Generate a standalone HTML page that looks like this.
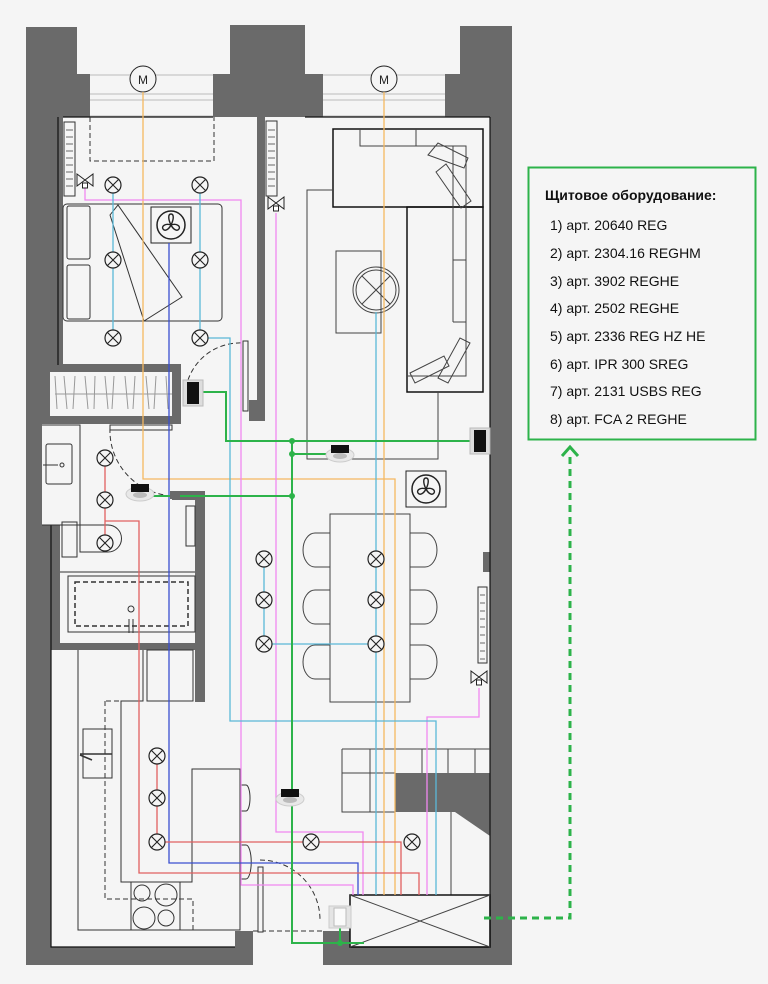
<!DOCTYPE html>
<html><head><meta charset="utf-8"><style>
html,body{margin:0;padding:0;background:#f5f5f5;}
svg{display:block;}
text{font-family:"Liberation Sans","DejaVu Sans",sans-serif;}
</style></head><body>
<svg width="768" height="984" viewBox="0 0 768 984" xmlns="http://www.w3.org/2000/svg">
<defs>
<g id="lamp"><circle r="8" fill="#f5f5f5" stroke="#222" stroke-width="1.2"/><path d="M-5.6,-5.6L5.6,5.6M5.6,-5.6L-5.6,5.6" stroke="#222" stroke-width="1.1"/></g>
<g id="fix"><ellipse cx="0" cy="4" rx="14" ry="7" fill="#e8e8e8" stroke="#ccc"/><rect x="-9" y="-6" width="18" height="8" fill="#111"/><ellipse cx="0" cy="5" rx="7" ry="3" fill="#bbb"/></g>
<g id="sw"><rect x="-10" y="-13" width="20" height="26" fill="#ddd" stroke="#bbb"/><rect x="-6" y="-11" width="12" height="22" fill="#111"/></g>
<g id="valve"><path d="M-8,-6L8,6L8,-6L-8,6Z" fill="none" stroke="#222"/><rect x="-2.5" y="3" width="5" height="5" fill="#fff" stroke="#222"/></g>
<g id="fan"><rect x="-20" y="-18" width="40" height="36" fill="#f5f5f5" stroke="#222"/><circle r="14" fill="none" stroke="#222" stroke-width="1.5"/><path d="M0,0C-3,-6 -3,-11 0,-11C3,-11 3,-6 0,0C5,-2 10,1 8,4C6,7 2,4 0,0C-2,4 -6,7 -8,4C-10,1 -5,-2 0,0Z" fill="none" stroke="#222" stroke-width="1.4"/></g>
</defs>
<rect width="768" height="984" fill="#f5f5f5"/>

<!-- walls -->
<g fill="#6a6a6a">
<path d="M26,27H77V74H90V117H63V365H42V525H60V650H51V947H235V931H253V965H26Z"/>
<path d="M230,25H305V74H323V117H213V74H230Z"/>
<path d="M460,26H512V965H323V931H350V947H490V572H483V552H490V117H445V74H460Z"/>
<rect x="257" y="117" width="8" height="304"/>
<rect x="249" y="400" width="16" height="21"/>
<path d="M42,364H181V372H50V416H181V424H42Z"/>
<rect x="172" y="364" width="9" height="60"/>
<path d="M172,491H205V702H195V500H172Z"/>
<rect x="60" y="643" width="135" height="7"/>
<path d="M395,773H490V812H395Z"/>
<path d="M455,812H490V836Z"/>
</g>
<!-- window lines -->
<g stroke="#bbb" fill="none" stroke-width="1">
<path d="M90,75H213M90,94H213M90,100H213M90,116H213M323,75H445M323,94H445M323,100H445M323,116H445"/>
</g>
<g stroke="#111" fill="none" stroke-width="1.2">
<path d="M63,117H213M305,117H490M58,117V365"/>
<path d="M51,525V947H235"/>
<path d="M350,947H490V117"/>
</g>
<!-- motors -->
<g stroke="#222" fill="#f5f5f5"><circle cx="143" cy="79" r="13"/><circle cx="384" cy="79" r="13"/></g>
<text x="143" y="84" font-size="12" text-anchor="middle" fill="#222">M</text>
<text x="384" y="84" font-size="12" text-anchor="middle" fill="#222">M</text>
<!-- dashed -->
<path d="M90,117V161H214V117" fill="none" stroke="#333" stroke-dasharray="5,3"/>
<!-- radiators -->
<g stroke="#333" fill="#f5f5f5">
<rect x="64" y="122" width="11" height="74"/><rect x="266" y="121" width="11" height="75"/><rect x="478" y="587" width="9" height="76"/>
</g>
<g stroke="#666"><path d="M66,130h7M66,137h7M66,144h7M66,151h7M66,158h7M66,165h7M66,172h7M66,179h7M66,186h7M268,130h7M268,137h7M268,144h7M268,151h7M268,158h7M268,165h7M268,172h7M268,179h7M268,186h7M480,595h5M480,603h5M480,611h5M480,619h5M480,627h5M480,635h5M480,643h5M480,651h5M480,659h5"/></g>
<!-- bed -->
<g stroke="#333" fill="none">
<rect x="63" y="204" width="159" height="117" rx="4"/>
<rect x="67" y="206" width="23" height="53" rx="2"/><rect x="67" y="265" width="23" height="54" rx="2"/>
<path d="M110,215L118,205L182,297L144,321Z"/>
</g>
<!-- wardrobe hangers -->
<g stroke="#999"><path d="M55,394H172"/><path d="M55,376l2,33M64,376l3,33M75,376l-2,33M85,376l3,33M95,376l-1,33M105,376l3,33M114,376l-2,33M125,376l3,33M135,376l-2,33M146,376l3,33M156,376l-2,33M166,376l2,33"/></g>
<!-- door arcs -->
<g stroke="#333" fill="none" stroke-dasharray="5,3">
<path d="M188,380A55,55 0 0 1 243,343"/>
<path d="M110,428A65,65 0 0 0 165,495"/>
<path d="M260,860A60,60 0 0 1 320,920"/>
<path d="M253,931H323"/>
</g>
<g stroke="#333" fill="#f5f5f5"><rect x="243" y="341" width="5" height="70"/><rect x="258" y="867" width="5" height="65"/><rect x="110" y="425" width="62" height="5"/></g>
<!-- bathroom -->
<g stroke="#333" fill="none">
<path d="M42,425H80V525H42"/>
<rect x="46" y="444" width="26" height="40" rx="2"/><circle cx="62" cy="465" r="2"/><path d="M43,465H58"/>
<rect x="62" y="522" width="15" height="35"/>
<path d="M80,525H108A13,13 0 0 1 108,552H80Z"/>
<path d="M60,572H195"/>
<rect x="68" y="576" width="127" height="56"/>
<rect x="75" y="582" width="113" height="44" stroke-dasharray="5,3" stroke-width="1.5"/>
<circle cx="131" cy="609" r="3"/><path d="M129,619v14M133,619v14"/>
<rect x="186" y="506" width="9" height="40"/>
</g>
<!-- kitchen -->
<g stroke="#333" fill="none">
<path d="M78,650V930H240V769H192V882H121V701H143V650"/>
<rect x="147" y="650" width="46" height="51"/>
<path d="M105,701V899H193V930" stroke-dasharray="5,3"/>
<path d="M143,701H105" stroke-dasharray="5,3"/><path d="M147,701H193" stroke-dasharray="5,3"/>
<rect x="83" y="729" width="29" height="49"/><path d="M80,754H112M80,755l12,5" stroke-width="1.5"/>
<path d="M131,882V930M180,882V930"/>
<circle cx="142" cy="893" r="8"/><circle cx="166" cy="895" r="11"/><circle cx="144" cy="918" r="11"/><circle cx="166" cy="918" r="8"/>
<path d="M240,785h6a4,13 0 0 1 0,26h-6Z"/><path d="M240,845h6a4,13 0 0 1 0,34h-6Z"/>
</g>
<!-- living room -->
<g stroke="#111" fill="none" stroke-width="1.5">
<rect x="333" y="129" width="150" height="78"/>
<rect x="407" y="207" width="76" height="185"/>
</g>
<g stroke="#444" fill="none">
<path d="M360,129V146H466V376H407"/><path d="M416,129V146M453,260H466M453,322H466M453,146V322"/>
<path d="M428,155l10,-12l30,15l-4,10ZM436,172l10,-8l25,37l-10,7Z"/>
<path d="M410,373l34,-17l5,10l-34,17ZM438,378l22,-40l10,5l-22,40Z"/>
<rect x="336" y="251" width="45" height="82"/>
<circle cx="376" cy="290" r="23"/><circle cx="376" cy="290" r="20"/>
<path d="M362,276L390,304M390,276L362,304"/>
<path d="M333,190H307V459H438V392"/>
<rect x="330" y="514" width="80" height="188"/>
<path d="M330,533h-15a12,17 0 0 0 0,34h15M330,590h-15a12,17 0 0 0 0,34h15M330,645h-15a12,17 0 0 0 0,34h15"/>
<path d="M410,533h15a12,17 0 0 1 0,34h-15M410,590h15a12,17 0 0 1 0,34h-15M410,645h15a12,17 0 0 1 0,34h-15"/>
<path d="M342,749H490M342,773H395M342,749V812H395M370,749V812M395,749V773M422,749V773M448,749V773M475,749V773"/>
<path d="M451,812V895"/>
<rect x="350" y="895" width="140" height="52" stroke="#111" stroke-width="1.5"/>
<path d="M350,895L490,947M350,947L490,895"/>
</g>
<use href="#fan" x="171" y="225"/>
<use href="#fan" x="426" y="489"/>

<!-- wiring -->
<g fill="none" stroke-width="1.3">
<path d="M143,92V479H395V895M384,92V895" stroke="#f5b860"/>
<path d="M85,188V200H241V885H353V895M276,213V832H363V895M479,688V717H427V895" stroke="#f088f0"/>
<path d="M169,243V863H358V895" stroke="#3a4fd0"/>
<path d="M113,185V338M200,185V338H230V721H436V895M376,312V895M264,559V644M376,559V644M264,644H376" stroke="#5ab8d8"/>
<path d="M105,458V543M105,521H139V873H419V895M157,756V842H401V895" stroke="#e06060"/>
<path d="M200,392H226V441H477M292,441V943H364M292,454H338M150,496H292M340,920V943" stroke="#2db34a" stroke-width="2"/>
</g>
<g fill="#2db34a"><circle cx="292" cy="441" r="3"/><circle cx="292" cy="454" r="3"/><circle cx="292" cy="496" r="3"/><circle cx="340" cy="943" r="3"/></g>
<!-- valves -->
<use href="#valve" x="85" y="180"/><use href="#valve" x="276" y="203"/><use href="#valve" x="479" y="677"/>
<!-- lamps -->
<use href="#lamp" x="113" y="185"/><use href="#lamp" x="200" y="185"/><use href="#lamp" x="113" y="260"/><use href="#lamp" x="200" y="260"/><use href="#lamp" x="113" y="338"/><use href="#lamp" x="200" y="338"/>
<use href="#lamp" x="105" y="458"/><use href="#lamp" x="105" y="500"/><use href="#lamp" x="105" y="543"/>
<use href="#lamp" x="264" y="559"/><use href="#lamp" x="264" y="600"/><use href="#lamp" x="264" y="644"/>
<use href="#lamp" x="376" y="559"/><use href="#lamp" x="376" y="600"/><use href="#lamp" x="376" y="644"/>
<use href="#lamp" x="157" y="756"/><use href="#lamp" x="157" y="798"/><use href="#lamp" x="157" y="842"/>
<use href="#lamp" x="311" y="842"/><use href="#lamp" x="412" y="842"/>
<!-- fixtures, switches -->
<use href="#fix" x="140" y="490"/><use href="#fix" x="340" y="451"/><use href="#fix" x="290" y="795"/>
<use href="#sw" x="193" y="393"/><use href="#sw" x="480" y="441"/>
<g><rect x="329" y="906" width="22" height="22" fill="#e4e4e4" stroke="#ccc"/><rect x="334" y="908" width="12" height="18" fill="#fafafa" stroke="#bbb"/></g>
<rect x="170" y="491" width="10" height="8" fill="#6a6a6a"/>

<!-- legend -->
<rect x="528.5" y="167.5" width="227" height="272" fill="#f5f5f5" stroke="#2db34a" stroke-width="2"/>
<g font-size="14" fill="#111">
<text x="545" y="200" font-weight="bold">Щитовое оборудование:</text>
<text x="550" y="230">1) арт. 20640 REG</text>
<text x="550" y="258">2) арт. 2304.16 REGHM</text>
<text x="550" y="286">3) арт. 3902 REGHE</text>
<text x="550" y="313">4) арт. 2502 REGHE</text>
<text x="550" y="341">5) арт. 2336 REG HZ HE</text>
<text x="550" y="369">6)  арт. IPR 300 SREG</text>
<text x="550" y="396">7) арт. 2131 USBS REG</text>
<text x="550" y="424">8) арт. FCA 2 REGHE</text>
</g>
<path d="M484,918H570V456" fill="none" stroke="#2db34a" stroke-width="3" stroke-dasharray="7,5"/>
<path d="M562,456L570,447L578,456" fill="none" stroke="#2db34a" stroke-width="3"/>
</svg>
</body></html>
